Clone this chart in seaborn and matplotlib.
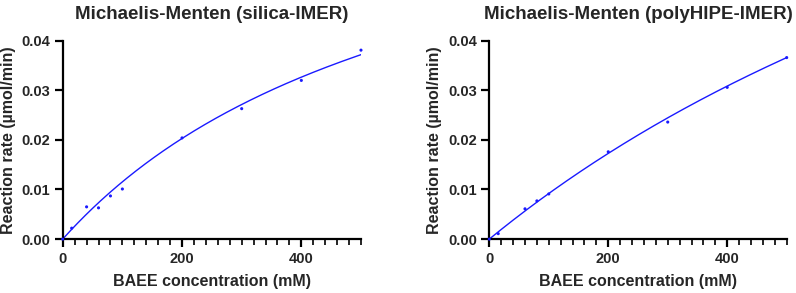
import numpy as np
import pandas as pd
import seaborn as sns
import matplotlib.pyplot as plt
from matplotlib.ticker import MultipleLocator

# measured points (BAEE mM, rate umol/min)
silica_conc = [0, 15, 40, 60, 80, 100, 200, 300, 400, 500]
silica_rate = [0.0, 0.0022, 0.0065, 0.0063, 0.0087, 0.0101, 0.0204, 0.0263, 0.0320, 0.0381]
poly_conc = [0, 15, 60, 80, 100, 200, 300, 400, 500]
poly_rate = [0.0, 0.0011, 0.0061, 0.0077, 0.0091, 0.0176, 0.0236, 0.0306, 0.0366]

# Michaelis-Menten fit parameters
silica_vmax, silica_km = 0.0836, 624.0
poly_vmax, poly_km = 0.1437, 1463.0

titles = ["Michaelis-Menten (silica-IMER)", "Michaelis-Menten (polyHIPE-IMER)"]

sns.set_style("ticks")
plt.rcParams["font.family"] = ["Liberation Sans", "DejaVu Sans"]
plt.rcParams["font.weight"] = "bold"

fig = plt.figure(figsize=(7.96, 2.93), dpi=100)
ax1 = fig.add_axes([0.0788, 0.184, 0.3747, 0.677])
ax2 = fig.add_axes([0.6147, 0.184, 0.3736, 0.677])

sets = [
    (ax1, silica_conc, silica_rate, silica_vmax, silica_km, titles[0]),
    (ax2, poly_conc, poly_rate, poly_vmax, poly_km, titles[1]),
]

for ax, conc, rate, vmax, km, title in sets:
    pts = pd.DataFrame({"conc": conc, "rate": rate})
    xs = np.linspace(0, 500, 200)
    fit = pd.DataFrame({"conc": xs, "rate": vmax * xs / (km + xs)})
    sns.lineplot(data=fit, x="conc", y="rate", ax=ax, color="#1a1aff", linewidth=1.0)
    sns.scatterplot(data=pts, x="conc", y="rate", ax=ax, color="#1a1aff", s=5,
                    edgecolor="none", zorder=3, clip_on=False)
    ax.set_xlim(0, 500)
    ax.set_ylim(0, 0.04)
    ax.set_xticks([0, 200, 400])
    ax.xaxis.set_minor_locator(MultipleLocator(20))
    ax.set_yticks([0, 0.01, 0.02, 0.03, 0.04])
    ax.set_yticklabels(["0.00", "0.01", "0.02", "0.03", "0.04"])
    ax.tick_params(axis="both", which="major", length=6, width=1.6, labelsize=10.5, pad=3,
                   color="black")
    ax.tick_params(axis="x", which="minor", length=4, width=1.2, color="black")
    for lab in ax.get_xticklabels() + ax.get_yticklabels():
        lab.set_fontweight("bold")
    for side in ["left", "bottom"]:
        ax.spines[side].set_linewidth(1.6)
        ax.spines[side].set_color("black")
    sns.despine(ax=ax)
    ax.set_xlabel("BAEE concentration (mM)", fontsize=11.5, fontweight="bold", labelpad=6)
    ax.set_ylabel("Reaction rate (µmol/min)", fontsize=11.5, fontweight="bold", labelpad=4)
    ax.set_title(title, fontsize=13.5, fontweight="bold", pad=16)

fig.savefig("out.png", dpi=100)
